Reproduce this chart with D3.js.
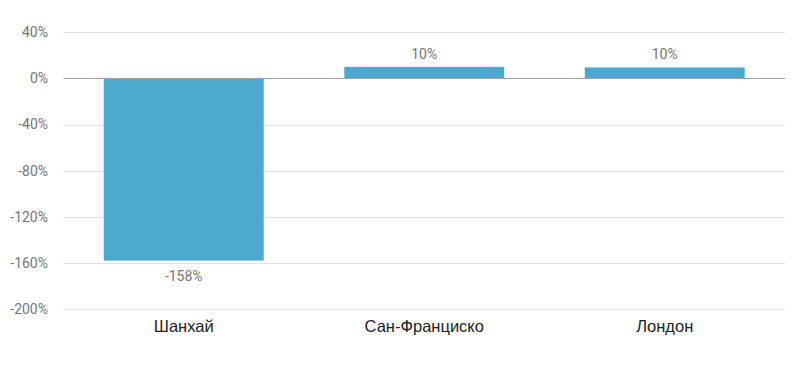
<!DOCTYPE html>
<html><head><meta charset="utf-8">
<script src="https://cdn.jsdelivr.net/npm/d3@7"></script>
<style>body{margin:0;background:#fff}svg{display:block}</style>
</head><body>
<svg id="c" width="800" height="367"></svg>
<script>
const categories = ["Шанхай", "Сан-Франциско", "Лондон"];
const values = [-158, 10, 9.5];
const yTicks = [40, 0, -40, -80, -120, -160, -200];

const svg = d3.select("#c");
const x = d3.scaleBand().domain(categories).range([63.5, 785]).paddingInner(0.335).paddingOuter(0.1675);
const y = d3.scaleLinear().domain([-200, 40]).range([309, 32.3]);

// gridlines
svg.append("g").selectAll("line").data(yTicks.filter(t => t !== 0)).join("line")
  .attr("x1", 63.5).attr("x2", 785)
  .attr("y1", d => Math.round(y(d)) + 0.5).attr("y2", d => Math.round(y(d)) + 0.5)
  .attr("stroke", "#e0e0e0").attr("stroke-width", 1);

// y labels
svg.append("g").selectAll("text").data(yTicks).join("text")
  .attr("x", 48).attr("y", d => y(d)).attr("dy", "0.35em")
  .attr("text-anchor", "end")
  .attr("font-family", "Roboto, sans-serif").attr("font-size", 14)
  .attr("fill", "#757575")
  .text(d => d + "%");

// bars
svg.append("g").selectAll("rect").data(values).join("rect")
  .attr("x", (d, i) => x(categories[i]))
  .attr("width", x.bandwidth())
  .attr("y", d => y(Math.max(0, d)))
  .attr("height", d => Math.abs(y(d) - y(0)))
  .attr("fill", "#4ba9cf");

// zero line
svg.append("line").attr("x1", 63.5).attr("x2", 785)
  .attr("y1", Math.round(y(0)) + 0.5).attr("y2", Math.round(y(0)) + 0.5)
  .attr("stroke", "#9e9e9e").attr("stroke-width", 1.2);

// value labels
svg.append("g").selectAll("text").data(values).join("text")
  .attr("x", (d, i) => x(categories[i]) + x.bandwidth() / 2)
  .attr("y", d => d < 0 ? y(d) + 20 : y(d) - 8)
  .attr("text-anchor", "middle")
  .attr("font-family", "Roboto, sans-serif").attr("font-size", 14)
  .attr("fill", "#757575")
  .text(d => Math.round(d) + "%");

// category labels
svg.append("g").selectAll("text").data(categories).join("text")
  .attr("x", d => x(d) + x.bandwidth() / 2)
  .attr("y", 332)
  .attr("text-anchor", "middle")
  .attr("font-family", "Liberation Sans, Arial, sans-serif").attr("font-size", 16.5)
  .attr("fill", "#212121")
  .text(d => d);
</script>
</body></html>
